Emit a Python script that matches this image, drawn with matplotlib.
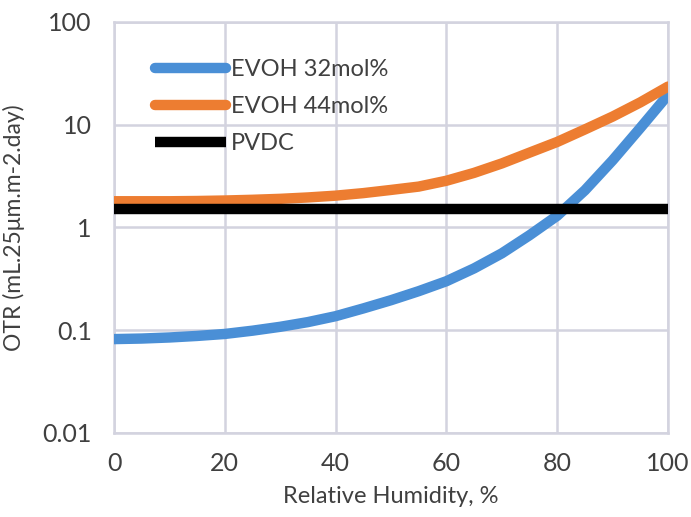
import matplotlib.pyplot as plt
from matplotlib.ticker import FixedLocator, FixedFormatter, NullLocator

# Datos (OTR vs humedad relativa)
rh = [0, 5, 10, 15, 20, 25, 30, 35, 40, 45, 50,
      55, 60, 65, 70, 75, 80, 85, 90, 95, 100]
evoh32 = [0.082, 0.083, 0.085, 0.088, 0.092, 0.099, 0.108, 0.12, 0.137, 0.163, 0.196,
          0.24, 0.30, 0.40, 0.56, 0.84, 1.3, 2.3, 4.5, 9.3, 19.5]
evoh44 = [1.80, 1.80, 1.80, 1.81, 1.83, 1.86, 1.90, 1.96, 2.04, 2.16, 2.32,
          2.5, 2.85, 3.4, 4.2, 5.35, 6.8, 9.0, 12.0, 16.5, 23.5]
pvdc_rh = [0, 100]
pvdc = [1.5, 1.5]

x_ticks = [0, 20, 40, 60, 80, 100]
y_ticks = [0.01, 0.1, 1, 10, 100]
y_labels = ['0.01', '0.1', '1', '10', '100']

plt.rcParams['font.family'] = ['Lato', 'DejaVu Sans']
text_color = '#404040'
grid_color = '#d3d3df'

fig = plt.figure(figsize=(6.91, 5.17), dpi=100)
ax = fig.add_axes([0.165, 0.1625, 0.8017, 0.795])

ax.plot(rh, evoh32, color='#4a8fd6', lw=7.5, solid_capstyle='round', label='EVOH 32mol%', zorder=3)
ax.plot(rh, evoh44, color='#ed7d31', lw=7.5, solid_capstyle='round', label='EVOH 44mol%', zorder=3)
ax.plot(pvdc_rh, pvdc, color='black', lw=7.5, solid_capstyle='butt', label='PVDC', zorder=3)

ax.set_yscale('log')
ax.set_xlim(0, 100)
ax.set_ylim(0.01, 100)
ax.xaxis.set_major_locator(FixedLocator(x_ticks))
ax.yaxis.set_major_locator(FixedLocator(y_ticks))
ax.yaxis.set_major_formatter(FixedFormatter(y_labels))
ax.yaxis.set_minor_locator(NullLocator())

ax.grid(True, color=grid_color, lw=1.8)
for s in ax.spines.values():
    s.set_color(grid_color)
    s.set_linewidth(1.8)
ax.tick_params(length=0, labelsize=18, colors=text_color)
ax.tick_params(axis='y', pad=16)
ax.tick_params(axis='x', pad=14)

ax.set_xlabel('Relative Humidity, %', fontsize=17, color=text_color)
ax.set_ylabel('OTR (mL.25μm.m-2.day)', fontsize=16.5, color=text_color)
ax.xaxis.set_label_coords(0.5, -0.13)
ax.yaxis.set_label_coords(-0.16, 0.5)

leg = ax.legend(loc='upper left', bbox_to_anchor=(0.074, 0.91), frameon=False,
                fontsize=17, handlelength=3.0, handletextpad=0.2,
                labelspacing=0.68, borderpad=0, borderaxespad=0)
for t in leg.get_texts():
    t.set_color(text_color)

fig.savefig('out.png', dpi=100)
